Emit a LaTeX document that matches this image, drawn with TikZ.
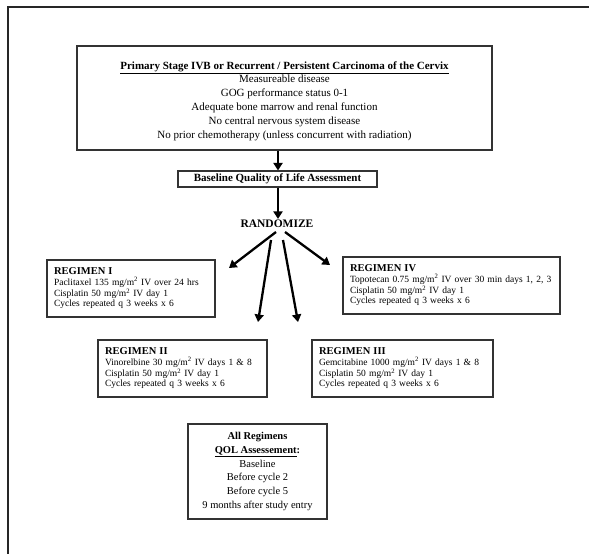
\documentclass[tikz,border=0pt]{standalone}
\usepackage{fontspec}
\setmainfont{Liberation Serif}
\usetikzlibrary{arrows.meta}
\newcommand{\reghead}[1]{\rule{0pt}{10.5pt}{\fontsize{10.5}{12}\selectfont\bfseries #1}\\[1pt]}
\newcommand{\lastln}{\rule[-6pt]{0pt}{1pt}}
\begin{document}
\begin{tikzpicture}[x=1pt,y=-1pt,
  box/.style={draw=black!80, line width=1.1pt, inner sep=0pt, fill=white},
  regbox/.style={box, align=left, inner xsep=7pt, font=\fontsize{9.5}{10}\selectfont},
  arr/.style={line width=2.3pt, -{Triangle[length=7.5pt,width=9pt]}},
]
\useasboundingbox (0,0) rectangle (589,554);
\draw[line width=1.2pt, black!85] (589,7) -- (8,7) -- (8,554);

\node[box, minimum width=415pt, minimum height=104pt] (top) at (284.5,98) {};
\node[align=center, inner sep=0pt, font=\fontsize{11}{14}\selectfont] (toptext) at (284.5,101)
  {\textbf{\underline{Primary Stage IVB or Recurrent / Persistent Carcinoma of the Cervix}}\\[-1pt]
   Measureable disease\\
   GOG performance status 0-1\\
   Adequate bone marrow and renal function\\
   No central nervous system disease\\
   No prior chemotherapy (unless concurrent with radiation)};

\node[box, minimum width=199pt, minimum height=16pt,
      font=\fontsize{11}{13}\selectfont\bfseries] (base) at (277.5,179)
  {Baseline Quality of Life Assessment};

\node[font=\fontsize{11.5}{13}\selectfont\bfseries, inner sep=1pt] (rand) at (277,224) {RANDOMIZE};

\node[regbox, text width=154pt, minimum height=57pt] (r1) at (131,288.5)
  {\reghead{REGIMEN I}
   Paclitaxel 135 mg/m\textsuperscript{2} IV over 24 hrs\\
   Cisplatin 50 mg/m\textsuperscript{2} IV day 1\\
   Cycles repeated q 3 weeks x 6\lastln};

\node[regbox, text width=203pt, minimum height=57pt] (r4) at (451.5,285.5)
  {\reghead{REGIMEN IV}
   Topotecan 0.75 mg/m\textsuperscript{2} IV over 30 min days 1, 2, 3\\
   Cisplatin 50 mg/m\textsuperscript{2} IV day 1\\
   Cycles repeated q 3 weeks x 6\lastln};

\node[regbox, text width=155pt, minimum height=57pt] (r2) at (182.5,368.5)
  {\reghead{REGIMEN II}
   Vinorelbine 30 mg/m\textsuperscript{2} IV days 1 \& 8\\
   Cisplatin 50 mg/m\textsuperscript{2} IV day 1\\
   Cycles repeated q 3 weeks x 6\lastln};

\node[regbox, text width=167pt, minimum height=57pt] (r3) at (402.5,368.5)
  {\reghead{REGIMEN III}
   Gemcitabine 1000 mg/m\textsuperscript{2} IV days 1 \& 8\\
   Cisplatin 50 mg/m\textsuperscript{2} IV day 1\\
   Cycles repeated q 3 weeks x 6\lastln};

\node[box, minimum width=139pt, minimum height=95pt, align=center,
      font=\fontsize{10.5}{13.7}\selectfont] (all) at (257.5,471.5)
  {\textbf{All Regimens}\\
   \textbf{\underline{QOL Assessement}:}\\
   Baseline\\
   Before cycle 2\\
   Before cycle 5\\
   9 months after study entry};

% arrows
\coordinate (ax) at (278,0);
\draw[arr] (top.south -| ax) -- (base.north -| ax);
\draw[arr] (base.south -| ax) -- (rand.north -| ax);

\coordinate (e1) at (229,268);
\coordinate (e2) at (258,322);
\coordinate (e3) at (298,322);
\coordinate (e4) at (330,265);
\coordinate (s1) at (276,232);
\coordinate (s2) at (271,240);
\coordinate (s3) at (283,240);
\coordinate (s4) at (285,232);
\draw[arr] (s1) -- (e1);
\draw[arr] (s2) -- (e2);
\draw[arr] (s3) -- (e3);
\draw[arr] (s4) -- (e4);
\end{tikzpicture}
\end{document}
